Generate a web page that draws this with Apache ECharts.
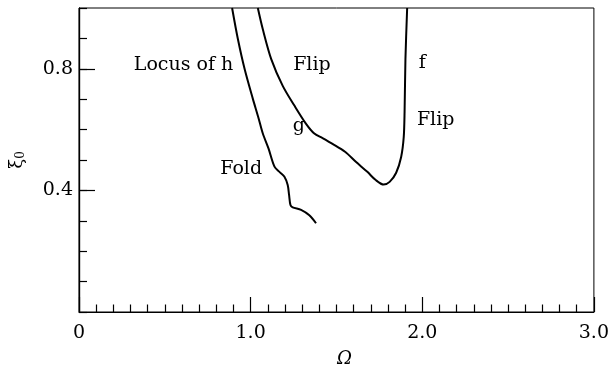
<!DOCTYPE html>
<html>
<head>
<meta charset="utf-8">
<script src="https://cdn.jsdelivr.net/npm/echarts@6/dist/echarts.min.js"></script>
<style>
  html, body { margin: 0; padding: 0; background: #fff; }
  #main { width: 612px; height: 373px; }
</style>
</head>
<body>
<div id="main"></div>
<script>
// curve "Locus of h" (fold branch), [Omega, xi0]
var locusH = [
    [0.892, 1.0], [0.926, 0.897], [0.965, 0.799], [1.013, 0.701], [1.045, 0.640],
    [1.071, 0.587], [1.104, 0.538], [1.139, 0.478], [1.168, 0.461], [1.197, 0.445],
    [1.216, 0.418], [1.224, 0.385], [1.232, 0.352], [1.245, 0.344], [1.294, 0.336],
    [1.342, 0.318], [1.381, 0.292]
];
// curve g - f (flip boundary)
var flipG = [
    [1.042, 1.0], [1.071, 0.930], [1.120, 0.832], [1.187, 0.744], [1.255, 0.679],
    [1.323, 0.619], [1.371, 0.587], [1.419, 0.572], [1.477, 0.553], [1.550, 0.527],
    [1.613, 0.494], [1.680, 0.461], [1.729, 0.434], [1.775, 0.419], [1.810, 0.428],
    [1.848, 0.458], [1.877, 0.510], [1.892, 0.575], [1.897, 0.658], [1.902, 0.832],
    [1.912, 1.0]
];
// text annotations [Omega, xi0, text]
var notes = [
    [0.609, 0.812, 'Locus of h'],
    [1.357, 0.812, 'Flip'],
    [2.000, 0.819, 'f'],
    [2.078, 0.632, 'Flip'],
    [1.281, 0.613, 'g'],
    [0.945, 0.469, 'Fold']
];
var xTicks = [0, 1, 2, 3];
var yTicks = [0.4, 0.8];

var chart = echarts.init(document.getElementById('main'));
var font = 'DejaVu Serif';

var option = {
    animation: false,
    textStyle: { fontFamily: font, color: '#000' },
    grid: {
        left: 78.5, right: 16, top: 8, bottom: 58.5,
        show: true, borderColor: '#000', borderWidth: 1,
        containLabel: false
    },
    xAxis: {
        type: 'value', min: 0, max: 3, interval: 1,
        name: 'Ω', nameLocation: 'middle', nameGap: 38,
        nameTextStyle: { fontFamily: font, fontStyle: 'italic', fontSize: 18, color: '#000', padding: [0, 0, 0, 16] },
        axisLine: { lineStyle: { color: '#000', width: 1.2 } },
        axisTick: { inside: true, length: 15, lineStyle: { color: '#000', width: 1.2 } },
        minorTick: { show: true, splitNumber: 10, length: 7.5, lineStyle: { color: '#000', width: 1.2 } },
        splitLine: { show: false },
        axisLabel: {
            margin: 12, fontSize: 19, fontFamily: font, color: '#000',
            formatter: function (v) { return xTicks.indexOf(v) < 0 ? '' : (v === 0 ? '0' : v.toFixed(1)); }
        }
    },
    yAxis: [{
        type: 'value', min: 0, max: 1, interval: 0.1, position: 'left',
        name: 'ξ{s|0}', nameLocation: 'middle', nameGap: 52, nameRotate: 90,
        nameTextStyle: {
            fontFamily: font, fontSize: 18, color: '#000',
            rich: { s: { fontFamily: font, fontSize: 12, verticalAlign: 'bottom', padding: [8, 0, 0, 0] } }
        },
        axisLine: { lineStyle: { color: '#000', width: 1.2 } },
        axisTick: { inside: true, length: 8, lineStyle: { color: '#000', width: 1.2 } },
        splitLine: { show: false },
        axisLabel: { show: false }
    }, {
        type: 'value', min: 0, max: 1, interval: 0.4, position: 'left', offset: 0,
        axisLine: { show: true, lineStyle: { color: '#000', width: 1.2 } },
        axisTick: { inside: true, length: 16, lineStyle: { color: '#000', width: 1.2 } },
        splitLine: { show: false },
        axisLabel: {
            margin: 6, fontSize: 19, fontFamily: font, color: '#000',
            showMinLabel: false, showMaxLabel: false,
            formatter: function (v) {
                for (var i = 0; i < yTicks.length; i++) {
                    if (Math.abs(yTicks[i] - v) < 1e-6) return yTicks[i].toFixed(1);
                }
                return '';
            }
        }
    }],
    series: [{
        type: 'line', data: locusH, showSymbol: false, smooth: 0.3,
        lineStyle: { color: '#000', width: 2 }, silent: true
    }, {
        type: 'line', data: flipG, showSymbol: false, smooth: 0.3,
        lineStyle: { color: '#000', width: 2 }, silent: true
    }, {
        type: 'scatter', data: notes, symbolSize: 0, silent: true,
        itemStyle: { opacity: 1, color: '#000' },
        label: {
            show: true, position: 'inside', fontFamily: font, fontSize: 19,
            color: '#000', opacity: 1, textBorderWidth: 0,
            formatter: function (p) { return p.data[2]; }
        }
    }]
};

chart.setOption(option);
</script>
</body>
</html>
